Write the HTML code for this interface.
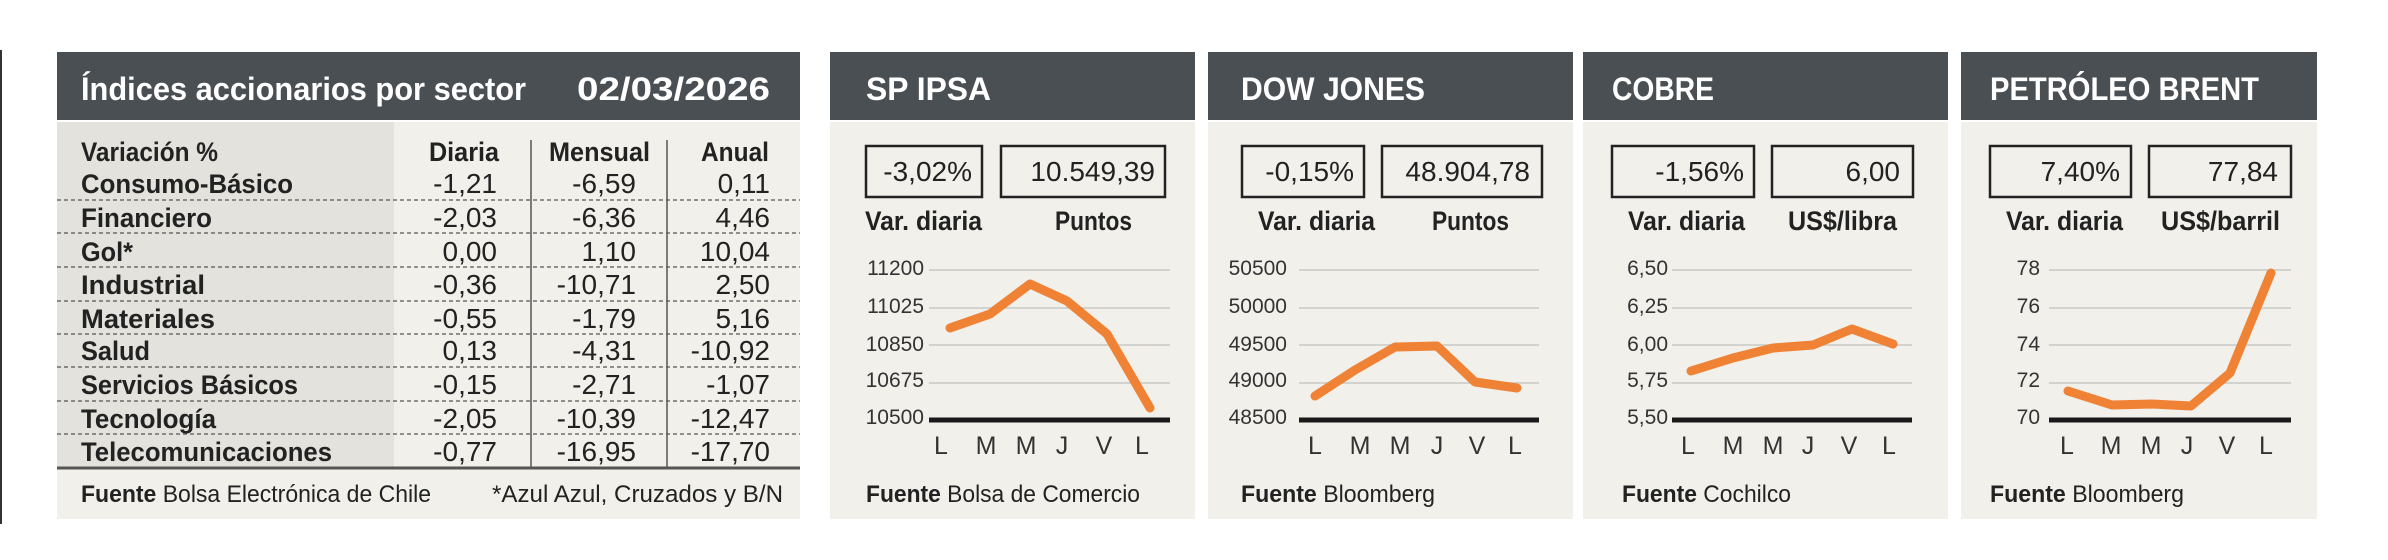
<!DOCTYPE html>
<html><head><meta charset="utf-8"><style>
html,body{margin:0;padding:0;background:#fff;width:2388px;height:560px;overflow:hidden}
svg{display:block}
text{font-family:"Liberation Sans Narrow","Liberation Sans",sans-serif}
.t{font-weight:bold;fill:#fff;font-size:32px}
.b{font-weight:bold;fill:#222;font-size:27px}
.n{fill:#222;font-size:28px}
.f{fill:#222;font-size:24px}
.ax{fill:#333;font-size:21px}
.xl{fill:#333;font-size:25px}
.bx{fill:none;stroke:#222;stroke-width:2.5}
.g{stroke:#c8c8c4;stroke-width:1.5}
.base{stroke:#1a1a1a;stroke-width:5}
.ln{fill:none;stroke:#ef8235;stroke-width:9;stroke-linejoin:round;stroke-linecap:round}
.d{stroke:#555;stroke-width:1.3;stroke-dasharray:4 3}
</style></head><body>
<svg width="2388" height="560" viewBox="0 0 2388 560">
<line x1="1" y1="50" x2="1" y2="524" stroke="#333" stroke-width="2"/>
<!-- TABLE -->
<rect x="57" y="122" width="743" height="397" fill="#f1f0eb"/>
<rect x="57" y="122" width="337" height="346" fill="#e3e2dd"/>
<rect x="57" y="52" width="743" height="68" fill="#4a4f54"/>
<text class="t" x="81" y="100" textLength="445" lengthAdjust="spacingAndGlyphs">Índices accionarios por sector</text>
<text class="t" x="577" y="100" textLength="193" lengthAdjust="spacingAndGlyphs">02/03/2026</text>
<line x1="531" y1="140" x2="531" y2="467" stroke="#555" stroke-width="1.5"/>
<line x1="667" y1="140" x2="667" y2="467" stroke="#555" stroke-width="1.5"/>
<text class="b" x="81" y="161" textLength="137" lengthAdjust="spacingAndGlyphs">Variación %</text>
<text class="b" x="429" y="161" textLength="70" lengthAdjust="spacingAndGlyphs">Diaria</text>
<text class="b" x="549" y="161" textLength="101" lengthAdjust="spacingAndGlyphs">Mensual</text>
<text class="b" x="701" y="161" textLength="68" lengthAdjust="spacingAndGlyphs">Anual</text>
<g>
<line class="d" x1="57" y1="200" x2="800" y2="200"/>
<line class="d" x1="57" y1="233" x2="800" y2="233"/>
<line class="d" x1="57" y1="267" x2="800" y2="267"/>
<line class="d" x1="57" y1="301" x2="800" y2="301"/>
<line class="d" x1="57" y1="334" x2="800" y2="334"/>
<line class="d" x1="57" y1="367" x2="800" y2="367"/>
<line class="d" x1="57" y1="401" x2="800" y2="401"/>
<line class="d" x1="57" y1="434" x2="800" y2="434"/>
</g>
<line x1="57" y1="468" x2="800" y2="468" stroke="#555" stroke-width="3"/>
<g>
<text class="b" x="81" y="193" textLength="212" lengthAdjust="spacingAndGlyphs">Consumo-Básico</text><text class="n" x="497" y="193" text-anchor="end">-1,21</text><text class="n" x="636" y="193" text-anchor="end">-6,59</text><text class="n" x="770" y="193" text-anchor="end">0,11</text>
<text class="b" x="81" y="227" textLength="131" lengthAdjust="spacingAndGlyphs">Financiero</text><text class="n" x="497" y="227" text-anchor="end">-2,03</text><text class="n" x="636" y="227" text-anchor="end">-6,36</text><text class="n" x="770" y="227" text-anchor="end">4,46</text>
<text class="b" x="81" y="261" textLength="52" lengthAdjust="spacingAndGlyphs">Gol*</text><text class="n" x="497" y="261" text-anchor="end">0,00</text><text class="n" x="636" y="261" text-anchor="end">1,10</text><text class="n" x="770" y="261" text-anchor="end">10,04</text>
<text class="b" x="81" y="294" textLength="124" lengthAdjust="spacingAndGlyphs">Industrial</text><text class="n" x="497" y="294" text-anchor="end">-0,36</text><text class="n" x="636" y="294" text-anchor="end">-10,71</text><text class="n" x="770" y="294" text-anchor="end">2,50</text>
<text class="b" x="81" y="328" textLength="134" lengthAdjust="spacingAndGlyphs">Materiales</text><text class="n" x="497" y="328" text-anchor="end">-0,55</text><text class="n" x="636" y="328" text-anchor="end">-1,79</text><text class="n" x="770" y="328" text-anchor="end">5,16</text>
<text class="b" x="81" y="360" textLength="69" lengthAdjust="spacingAndGlyphs">Salud</text><text class="n" x="497" y="360" text-anchor="end">0,13</text><text class="n" x="636" y="360" text-anchor="end">-4,31</text><text class="n" x="770" y="360" text-anchor="end">-10,92</text>
<text class="b" x="81" y="394" textLength="217" lengthAdjust="spacingAndGlyphs">Servicios Básicos</text><text class="n" x="497" y="394" text-anchor="end">-0,15</text><text class="n" x="636" y="394" text-anchor="end">-2,71</text><text class="n" x="770" y="394" text-anchor="end">-1,07</text>
<text class="b" x="81" y="428" textLength="135" lengthAdjust="spacingAndGlyphs">Tecnología</text><text class="n" x="497" y="428" text-anchor="end">-2,05</text><text class="n" x="636" y="428" text-anchor="end">-10,39</text><text class="n" x="770" y="428" text-anchor="end">-12,47</text>
<text class="b" x="81" y="461" textLength="251" lengthAdjust="spacingAndGlyphs">Telecomunicaciones</text><text class="n" x="497" y="461" text-anchor="end">-0,77</text><text class="n" x="636" y="461" text-anchor="end">-16,95</text><text class="n" x="770" y="461" text-anchor="end">-17,70</text>
</g>
<text class="f" x="81" y="502" textLength="350" lengthAdjust="spacingAndGlyphs"><tspan font-weight="bold">Fuente</tspan> Bolsa Electrónica de Chile</text>
<text class="f" x="492" y="502" textLength="291" lengthAdjust="spacingAndGlyphs">*Azul Azul, Cruzados y B/N</text>

<!-- SP IPSA -->
<rect x="830" y="122" width="365" height="397" fill="#f1f0eb"/>
<rect x="830" y="52" width="365" height="68" fill="#4a4f54"/>
<text class="t" x="866" y="100" textLength="125" lengthAdjust="spacingAndGlyphs">SP IPSA</text>
<rect class="bx" x="866" y="146" width="116" height="51"/>
<rect class="bx" x="1001" y="146" width="164" height="51"/>
<text class="n" x="972" y="181" text-anchor="end">-3,02%</text>
<text class="n" x="1155" y="181" text-anchor="end">10.549,39</text>
<text class="b" x="865" y="230" textLength="117" lengthAdjust="spacingAndGlyphs">Var. diaria</text>
<text class="b" x="1055" y="230" textLength="77" lengthAdjust="spacingAndGlyphs">Puntos</text>
<line class="g" x1="929" y1="270" x2="1170" y2="270"/><line class="g" x1="929" y1="308" x2="1170" y2="308"/><line class="g" x1="929" y1="345" x2="1170" y2="345"/><line class="g" x1="929" y1="383" x2="1170" y2="383"/>
<line class="base" x1="929" y1="420" x2="1170" y2="420"/>
<g class="ax" text-anchor="end"><text x="924" y="275">11200</text><text x="924" y="313">11025</text><text x="924" y="351">10850</text><text x="924" y="387">10675</text><text x="924" y="424">10500</text></g>
<g class="xl" text-anchor="middle"><text x="941" y="454">L</text><text x="986" y="454">M</text><text x="1026" y="454">M</text><text x="1062" y="454">J</text><text x="1104" y="454">V</text><text x="1142" y="454">L</text></g>
<polyline class="ln" points="950,328 990,314 1030,284 1067,301 1107,334 1150,408"/>
<text class="f" x="866" y="502" textLength="274" lengthAdjust="spacingAndGlyphs"><tspan font-weight="bold">Fuente</tspan> Bolsa de Comercio</text>

<!-- DOW -->
<rect x="1208" y="122" width="365" height="397" fill="#f1f0eb"/>
<rect x="1208" y="52" width="365" height="68" fill="#4a4f54"/>
<text class="t" x="1241" y="100" textLength="184" lengthAdjust="spacingAndGlyphs">DOW JONES</text>
<rect class="bx" x="1242" y="146" width="122" height="51"/>
<rect class="bx" x="1382" y="146" width="160" height="51"/>
<text class="n" x="1354" y="181" text-anchor="end">-0,15%</text>
<text class="n" x="1530" y="181" text-anchor="end">48.904,78</text>
<text class="b" x="1258" y="230" textLength="117" lengthAdjust="spacingAndGlyphs">Var. diaria</text>
<text class="b" x="1432" y="230" textLength="77" lengthAdjust="spacingAndGlyphs">Puntos</text>
<line class="g" x1="1299" y1="270" x2="1539" y2="270"/><line class="g" x1="1299" y1="308" x2="1539" y2="308"/><line class="g" x1="1299" y1="345" x2="1539" y2="345"/><line class="g" x1="1299" y1="383" x2="1539" y2="383"/>
<line class="base" x1="1299" y1="420" x2="1539" y2="420"/>
<g class="ax" text-anchor="end"><text x="1287" y="275">50500</text><text x="1287" y="313">50000</text><text x="1287" y="351">49500</text><text x="1287" y="387">49000</text><text x="1287" y="424">48500</text></g>
<g class="xl" text-anchor="middle"><text x="1315" y="454">L</text><text x="1360" y="454">M</text><text x="1400" y="454">M</text><text x="1437" y="454">J</text><text x="1477" y="454">V</text><text x="1515" y="454">L</text></g>
<polyline class="ln" points="1315,396 1355,370 1395,347 1437,346 1475,382 1517,388"/>
<text class="f" x="1241" y="502" textLength="194" lengthAdjust="spacingAndGlyphs"><tspan font-weight="bold">Fuente</tspan> Bloomberg</text>

<!-- COBRE -->
<rect x="1583" y="122" width="365" height="397" fill="#f1f0eb"/>
<rect x="1583" y="52" width="365" height="68" fill="#4a4f54"/>
<text class="t" x="1612" y="100" textLength="102" lengthAdjust="spacingAndGlyphs">COBRE</text>
<rect class="bx" x="1612" y="146" width="142" height="51"/>
<rect class="bx" x="1772" y="146" width="141" height="51"/>
<text class="n" x="1744" y="181" text-anchor="end">-1,56%</text>
<text class="n" x="1900" y="181" text-anchor="end">6,00</text>
<text class="b" x="1628" y="230" textLength="117" lengthAdjust="spacingAndGlyphs">Var. diaria</text>
<text class="b" x="1788" y="230" textLength="109" lengthAdjust="spacingAndGlyphs">US$/libra</text>
<line class="g" x1="1672" y1="270" x2="1912" y2="270"/><line class="g" x1="1672" y1="308" x2="1912" y2="308"/><line class="g" x1="1672" y1="345" x2="1912" y2="345"/><line class="g" x1="1672" y1="383" x2="1912" y2="383"/>
<line class="base" x1="1672" y1="420" x2="1912" y2="420"/>
<g class="ax" text-anchor="end"><text x="1668" y="275">6,50</text><text x="1668" y="313">6,25</text><text x="1668" y="351">6,00</text><text x="1668" y="387">5,75</text><text x="1668" y="424">5,50</text></g>
<g class="xl" text-anchor="middle"><text x="1688" y="454">L</text><text x="1733" y="454">M</text><text x="1773" y="454">M</text><text x="1808" y="454">J</text><text x="1849" y="454">V</text><text x="1889" y="454">L</text></g>
<polyline class="ln" points="1691,371 1733,358 1773,348 1813,345 1852,329 1893,344"/>
<text class="f" x="1622" y="502" textLength="169" lengthAdjust="spacingAndGlyphs"><tspan font-weight="bold">Fuente</tspan> Cochilco</text>

<!-- BRENT -->
<rect x="1961" y="122" width="356" height="397" fill="#f1f0eb"/>
<rect x="1961" y="52" width="356" height="68" fill="#4a4f54"/>
<text class="t" x="1990" y="100" textLength="269" lengthAdjust="spacingAndGlyphs">PETRÓLEO BRENT</text>
<rect class="bx" x="1990" y="146" width="141" height="51"/>
<rect class="bx" x="2149" y="146" width="142" height="51"/>
<text class="n" x="2120" y="181" text-anchor="end">7,40%</text>
<text class="n" x="2278" y="181" text-anchor="end">77,84</text>
<text class="b" x="2006" y="230" textLength="117" lengthAdjust="spacingAndGlyphs">Var. diaria</text>
<text class="b" x="2161" y="230" textLength="119" lengthAdjust="spacingAndGlyphs">US$/barril</text>
<line class="g" x1="2049" y1="270" x2="2291" y2="270"/><line class="g" x1="2049" y1="308" x2="2291" y2="308"/><line class="g" x1="2049" y1="345" x2="2291" y2="345"/><line class="g" x1="2049" y1="383" x2="2291" y2="383"/>
<line class="base" x1="2049" y1="420" x2="2291" y2="420"/>
<g class="ax" text-anchor="end"><text x="2040" y="275">78</text><text x="2040" y="313">76</text><text x="2040" y="351">74</text><text x="2040" y="387">72</text><text x="2040" y="424">70</text></g>
<g class="xl" text-anchor="middle"><text x="2067" y="454">L</text><text x="2111" y="454">M</text><text x="2151" y="454">M</text><text x="2187" y="454">J</text><text x="2227" y="454">V</text><text x="2266" y="454">L</text></g>
<polyline class="ln" points="2068,391 2112,405 2152,404 2191,406 2230,373 2271,273"/>
<text class="f" x="1990" y="502" textLength="194" lengthAdjust="spacingAndGlyphs"><tspan font-weight="bold">Fuente</tspan> Bloomberg</text>
</svg>
</body></html>
